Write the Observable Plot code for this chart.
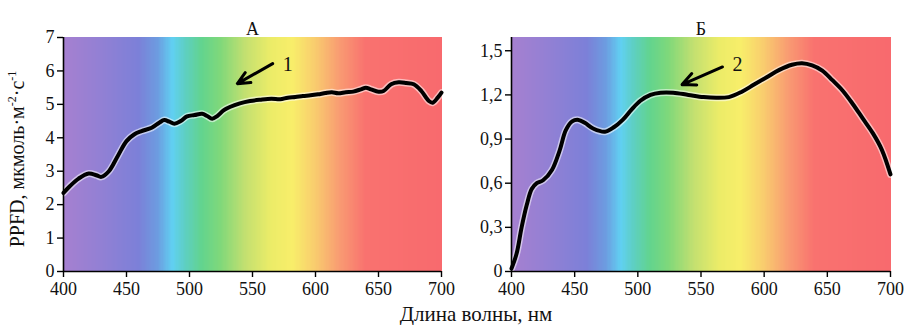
<!DOCTYPE html>
<html>
<head>
<meta charset="utf-8">
<script src="https://cdn.jsdelivr.net/npm/d3@7"></script>
<script src="https://cdn.jsdelivr.net/npm/@observablehq/plot@0.6"></script>
<style>
  html, body { margin: 0; padding: 0; background: #fff; }
  #wrap { position: relative; width: 912px; height: 325px; font-family: "Liberation Serif", "Times New Roman", serif; color: #111; }
  #left, #right { position: absolute; top: 0; }
  #left { left: 0; }
  #right { left: 450px; }
  #ylab { position: absolute; left: 17px; top: 159px; transform: translate(-50%, -50%) rotate(-90deg); white-space: nowrap; font-size: 20px; }
  #ylab sup { font-size: 12px; }
  #xlab { position: absolute; left: 476px; top: 314px; transform: translate(-50%, -50%); white-space: nowrap; font-size: 21px; }
</style>
</head>
<body>
<div id="wrap">
  <div id="left"></div>
  <div id="right"></div>
  <div id="ylab">PPFD, мкмоль·м<sup>-2</sup>·с<sup>-1</sup></div>
  <div id="xlab">Длина волны, нм</div>
</div>
<script>
// ---- Data ----
const panelTitles = ["А", "Б"];
const xTicks = [400, 450, 500, 550, 600, 650, 700];
const yTicksA = [0, 1, 2, 3, 4, 5, 6, 7];
const yTicksB = [0, 0.3, 0.6, 0.9, 1.2, 1.5];

const wavelengthA = [400,405,412,420,426,430,436,443,450,456,462,470,476,480,484,488,493,498,504,510,514,518,522,527,532,540,548,556,565,572,578,584,590,596,602,608,613,618,624,630,636,640,644,650,654,660,666,672,678,684,690,693,697,700];
const ppfdA = [2.35,2.55,2.78,2.93,2.88,2.83,3.0,3.45,3.9,4.1,4.2,4.3,4.45,4.53,4.48,4.42,4.5,4.64,4.68,4.72,4.65,4.57,4.65,4.82,4.92,5.03,5.1,5.14,5.17,5.15,5.2,5.22,5.25,5.27,5.3,5.34,5.36,5.33,5.36,5.38,5.45,5.5,5.45,5.38,5.4,5.6,5.66,5.64,5.6,5.4,5.1,5.05,5.2,5.35];

const wavelengthB = [400,404,408,412,416,420,425,432,438,443,448,453,458,465,474,481,488,495,502,510,518,528,540,552,562,572,582,592,602,612,622,630,638,646,654,662,670,678,686,693,700];
const ppfdB = [0.02,0.12,0.30,0.45,0.56,0.60,0.62,0.69,0.82,0.96,1.02,1.03,1.01,0.97,0.95,0.98,1.03,1.10,1.16,1.20,1.215,1.215,1.20,1.185,1.18,1.185,1.22,1.27,1.32,1.37,1.405,1.415,1.40,1.365,1.30,1.23,1.14,1.04,0.94,0.83,0.66];

// arrows: start (x1,y1) -> head (x2,y2), label position (lx, ly)
const arrowA = {x1: 566, y1: 6.22, x2: 538, y2: 5.62, label: "1", lx: 574, ly: 6.2};
const arrowB = {x1: 567, y1: 1.39, x2: 535, y2: 1.27, label: "2", lx: 575, ly: 1.405};

// spectrum stops (wavelength -> colour)
const specStops = [400, 430, 460, 475, 487, 497, 510, 525, 545, 565, 582, 600, 620, 640, 700];
const specColors = ["#a680d0","#9280d4","#7c80d8","#6c9ce0","#60d0f2","#5ecfc2","#62d48e","#80d87a","#c4e070","#ecec68","#f8ee6a","#f9cc6e","#f99a72","#f9726f","#f86a6e"];

// ---- Build ----
const specScale = d3.scaleLinear().domain(specStops).range(specColors).interpolate(d3.interpolateRgb);
const bins = d3.range(400, 700, 1).map(w => ({w0: w, w1: w + 1.5, c: specScale(w + 0.5)}));

const dataA = wavelengthA.map((w, i) => ({w, v: ppfdA[i]}));
const dataB = wavelengthB.map((w, i) => ({w, v: ppfdB[i]}));

function comma(d) { return d === 0 ? "0" : d.toFixed(1).replace(".", ","); }

function panel({data, yDomain, yTicks, yFormat, title, arrow, width, marginLeft, marginRight}) {
  return Plot.plot({
    width, height: 300,
    marginLeft, marginRight, marginTop: 37, marginBottom: 29,
    style: {fontFamily: "'Liberation Serif', 'Times New Roman', serif", fontSize: "18px", color: "#111", background: "transparent", overflow: "visible"},
    x: {domain: [400, 700], label: null},
    y: {domain: yDomain, label: null},
    color: {type: "identity"},
    marks: [
      Plot.rect(bins, {x1: "w0", x2: "w1", y1: yDomain[0], y2: yDomain[1], fill: "c", inset: 0, shapeRendering: "crispEdges"}),
      Plot.line(data, {x: "w", y: "v", stroke: "white", strokeOpacity: 0.55, strokeWidth: 7, curve: "catmull-rom"}),
      Plot.line(data, {x: "w", y: "v", stroke: "#000", strokeWidth: 4, curve: "catmull-rom"}),
      Plot.arrow([arrow], {x1: "x1", y1: "y1", x2: "x2", y2: "y2", stroke: "#000", strokeWidth: 3, headLength: 10, headAngle: 50, bend: 0}),
      Plot.text([arrow], {x: "lx", y: "ly", text: "label", fontSize: 20, textAnchor: "start", fill: "#111"}),
      Plot.ruleY([yDomain[0]], {stroke: "#000", strokeWidth: 1.6}),
      Plot.ruleX([400], {stroke: "#000", strokeWidth: 1.6}),
      Plot.axisX({ticks: xTicks, tickSize: 6, tickPadding: 5, fontSize: 18, label: null, stroke: "#000", strokeWidth: 1.4}),
      Plot.axisY({ticks: yTicks, tickFormat: yFormat, tickSize: 6, tickPadding: 3, fontSize: 18, label: null, stroke: "#000", strokeWidth: 1.4}),
      Plot.text([title], {frameAnchor: "top", dy: -15, fontSize: 18, fill: "#111"})
    ]
  });
}

document.getElementById("left").appendChild(panel({
  data: dataA, yDomain: [0, 7], yTicks: yTicksA, yFormat: d => String(d),
  title: panelTitles[0], arrow: arrowA, width: 456, marginLeft: 63, marginRight: 15
}));
document.getElementById("right").appendChild(panel({
  data: dataB, yDomain: [0, 1.59], yTicks: yTicksB, yFormat: comma,
  title: panelTitles[1], arrow: arrowB, width: 462, marginLeft: 61, marginRight: 22
}));
</script>
</body>
</html>
